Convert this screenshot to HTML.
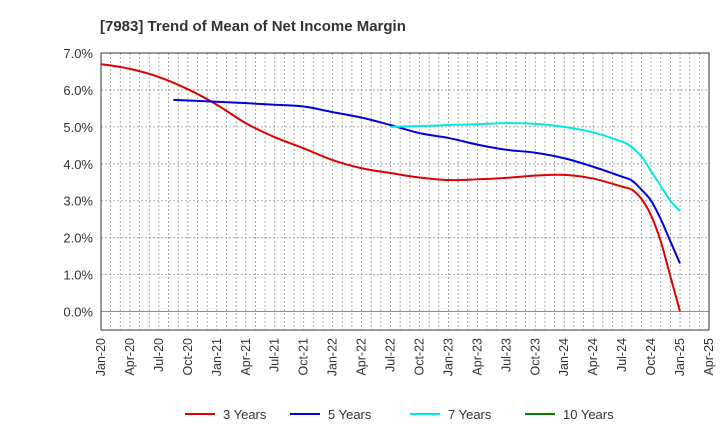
<!DOCTYPE html>
<html><head><meta charset="utf-8"><style>
body{margin:0;background:#fff;font-family:"Liberation Sans",Arial,sans-serif}
</style></head><body>
<svg id="c" width="720" height="440" xmlns="http://www.w3.org/2000/svg">
<text x="100" y="31" font-size="15" font-weight="bold" fill="#333">[7983]  Trend of Mean of Net Income Margin</text>
<g id="grid"></g><g id="axes"></g><g id="series"></g><g id="legend"></g>
</svg>
<script>
const yTicks=[0,1,2,3,4,5,6,7];
const xTickLabels=["Jan-20","Apr-20","Jul-20","Oct-20","Jan-21","Apr-21","Jul-21","Oct-21","Jan-22","Apr-22","Jul-22","Oct-22","Jan-23","Apr-23","Jul-23","Oct-23","Jan-24","Apr-24","Jul-24","Oct-24","Jan-25","Apr-25"];
const months3=[0,3,6,9,12,15,18,21,24,27,30,33,36,39,42,45,48,51,54,55,56,57,58,59,60];
const vals3=[6.7,6.57,6.35,6.02,5.6,5.1,4.72,4.42,4.1,3.88,3.75,3.63,3.56,3.58,3.62,3.68,3.7,3.6,3.38,3.3,3.05,2.6,1.9,0.95,0.0];
const months5=[7.5,12,18,21,24,27,30,33,36,39,42,45,48,51,54,55,56,57,58,59,60];
const vals5=[5.73,5.68,5.6,5.55,5.4,5.25,5.05,4.83,4.7,4.52,4.38,4.3,4.15,3.92,3.65,3.55,3.3,3.0,2.5,1.9,1.3];
const months7=[30,33,36,39,42,45,48,51,54,55,56,57,58,59,60];
const vals7=[5.0,5.02,5.05,5.07,5.1,5.08,5.0,4.85,4.6,4.45,4.2,3.8,3.4,3.0,2.72];
const months10=[];const vals10=[];
const L=101,R=709,T=53,B=330,yMin=-0.5,yMax=7;
const x=m=>L+m*(R-L)/63;
const y=v=>B-(v-yMin)*(B-T)/(yMax-yMin);
const NS="http://www.w3.org/2000/svg";
function mk(tag,attrs,parent){const e=document.createElementNS(NS,tag);for(const k in attrs)e.setAttribute(k,attrs[k]);parent.appendChild(e);return e;}
const grid=document.getElementById('grid'),axes=document.getElementById('axes'),ser=document.getElementById('series'),leg=document.getElementById('legend');
for(let m=1;m<63;m++){const g=mk('line',{x1:x(m),x2:x(m),y1:T,y2:B,stroke:'#999','stroke-width':0.8,'stroke-dasharray':'2,2'},grid);

}
yTicks.forEach(v=>{const g=mk('line',{x1:L,x2:R,y1:y(v),y2:y(v),stroke:v===0?'#666':'#999','stroke-width':0.8,'stroke-dasharray':v===0?'':'2,2'},grid);


const t=mk('text',{x:L-8,y:y(v)+5,'text-anchor':'end','font-size':13,fill:'#333'},axes);t.textContent=v.toFixed(1)+'%';

});
xTickLabels.forEach((s,i)=>{const xx=x(i*3);const t=mk('text',{x:0,y:0,'text-anchor':'end','font-size':12.5,fill:'#333',transform:`translate(${xx+4},${B+8}) rotate(-90)`},axes);t.textContent=s;

});
const fr=mk('rect',{x:L,y:T,width:R-L,height:B-T,fill:'none',stroke:'#333','stroke-width':1},axes);


function path(ms,vs){const p=ms.map((m,i)=>[x(m),y(vs[i])]);if(!p.length)return'';let d=`M${p[0][0]},${p[0][1]}`;
for(let i=0;i<p.length-1;i++){const p0=p[i-1]||p[i],p1=p[i],p2=p[i+1],p3=p[i+2]||p2;
d+=` C${p1[0]+(p2[0]-p0[0])/6},${p1[1]+(p2[1]-p0[1])/6} ${p2[0]-(p3[0]-p1[0])/6},${p2[1]-(p3[1]-p1[1])/6} ${p2[0]},${p2[1]}`;}return d;}
const series=[[months3,vals3,'#e00000','3 Years','line-3-years'],[months5,vals5,'#0000e0','5 Years','line-5-years'],[months7,vals7,'#00e8e8','7 Years','line-7-years'],[months10,vals10,'#008000','10 Years','line-10-years']];
const lx=[185,290,410,525];
series.forEach((s,i)=>{if(s[0].length){const p=mk('path',{d:path(s[0],s[1]),fill:'none',stroke:s[2],'stroke-width':2},ser);

}
const g=mk('g',{},leg);


mk('line',{x1:lx[i],x2:lx[i]+30,y1:414,y2:414,stroke:s[2],'stroke-width':2},g);
const t=mk('text',{x:lx[i]+38,y:419,'font-size':13,fill:'#333'},g);t.textContent=s[3];});
</script>
</body></html>
